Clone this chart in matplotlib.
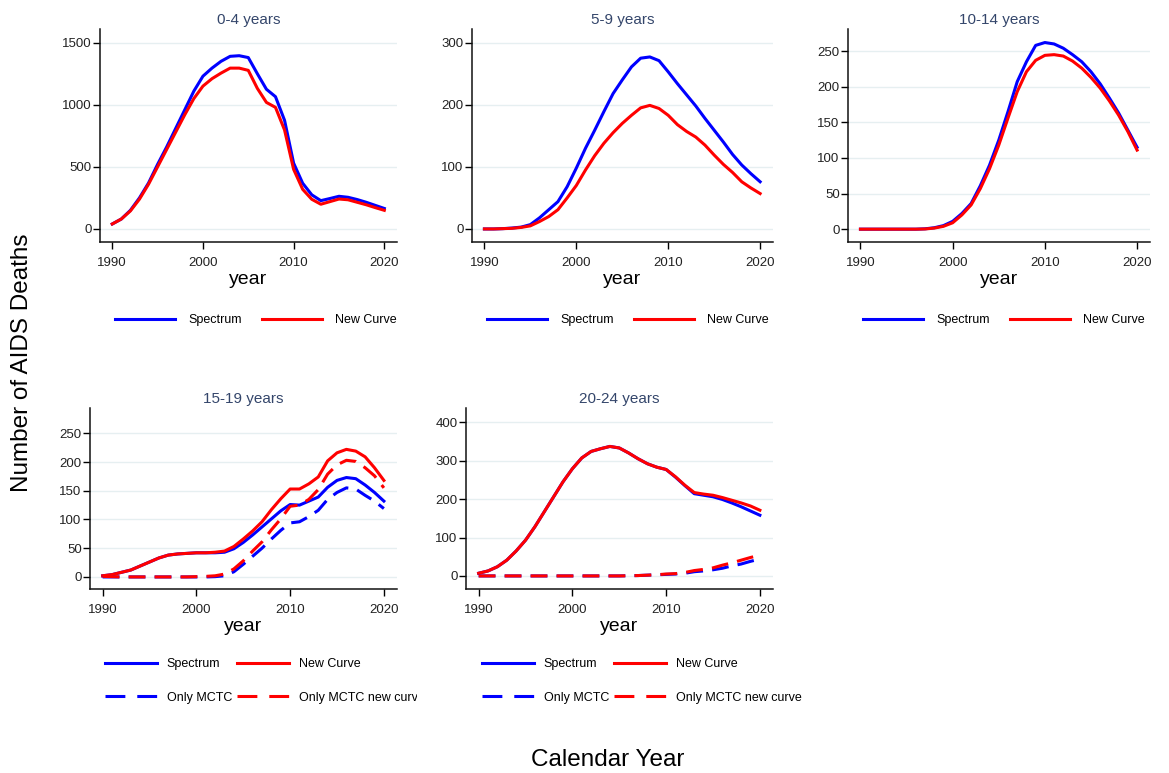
import matplotlib
matplotlib.use("Agg")
import matplotlib.pyplot as plt
from matplotlib.lines import Line2D
from matplotlib.transforms import Bbox, TransformedBbox

plt.rcParams['font.family'] = ['Liberation Sans', 'DejaVu Sans']

W, H = 1169, 773

# calendar years on the x axis
years = list(range(1990, 2021))

# AIDS deaths, 0-4 years
spec_0_4 = [40, 80, 150, 250, 370, 520, 660, 810, 960, 1110, 1230, 1295, 1350, 1390, 1395, 1380,
            1250, 1125, 1065, 875, 530, 368, 275, 228, 245, 263, 255, 237, 215, 190, 165]
new_0_4 = [40, 80, 145, 240, 360, 500, 640, 780, 920, 1050, 1150, 1210, 1255, 1295, 1295, 1277,
           1132, 1019, 979, 797, 480, 319, 239, 199, 220, 241, 235, 215, 195, 172, 150]

# 5-9 years
spec_5_9 = [0, 0, 0.5, 1.5, 3, 7, 18, 31, 44, 68, 98, 130, 159, 189, 218, 240,
            261, 275, 277, 271, 253, 234, 216, 198, 178, 159, 140, 120, 103, 89, 76]
new_5_9 = [0, 0, 0.5, 1, 2.5, 5, 12, 20, 31, 50, 70, 95, 118, 138, 155, 170,
           183, 195, 199, 194, 183, 168, 157, 148, 135, 119, 104, 91, 76, 66, 57]

# 10-14 years
spec_10_14 = [0, 0, 0, 0, 0, 0, 0, 0.5, 2, 5, 11, 22, 36, 61, 90, 125,
              165, 207, 235, 258, 262, 260, 254, 245, 235, 221, 204, 184, 163, 139, 115]
new_10_14 = [0, 0, 0, 0, 0, 0, 0, 0.3, 1.5, 4, 9, 20, 34, 57, 85, 118,
             156, 193, 221, 237, 244, 245, 243, 236, 226, 213, 198, 180, 160, 137, 111]

# 15-19 years
spec_15_19 = [2, 4, 8, 12, 19, 26, 33, 38, 40, 41, 42, 42, 42, 43, 49, 60,
              73, 87, 101, 115, 126, 125, 132, 139, 156, 168, 173, 171, 160, 147, 132]
new_15_19 = [2, 4, 8, 12, 19, 26, 33, 38, 40, 41, 42, 42, 43, 45, 53, 66,
             80, 96, 117, 136, 153, 153, 162, 174, 202, 216, 222, 219, 209, 190, 168]
mctc_15_19 = [0, 0, 0, 0, 0, 0, 0, 0, 0, 0, 0, 0, 0.5, 2, 9, 22,
              36, 50, 66, 81, 94, 96, 105, 116, 135, 147, 155, 153, 142, 132, 119]
mctc_new_15_19 = [1, 0.5, 0, 0, 0, 0, 0, 0, 0, 0, 0.5, 1, 2, 5, 14, 28,
                  45, 61, 82, 101, 123, 125, 135, 152, 179, 195, 203, 201, 190, 176, 155]

# 20-24 years
spec_20_24 = [7, 13, 24, 41, 65, 93, 128, 167, 206, 245, 279, 307, 324, 331, 337, 333,
              320, 305, 292, 283, 277, 257, 235, 214, 210, 206, 199, 190, 180, 169, 158]
new_20_24 = [7, 13, 24, 41, 65, 93, 128, 167, 206, 245, 279, 307, 324, 331, 337, 333,
             320, 305, 292, 283, 277, 258, 236, 217, 213, 210, 204, 197, 190, 182, 171]
mctc_20_24 = [0, 0, 0, 0, 0, 0, 0, 0, 0, 0, 0, 0, 0, 0, 0, 0,
              0.5, 1, 2, 3, 4, 5, 7, 11, 13, 16, 20, 26, 31, 38, 44]
mctc_new_20_24 = [0, 0, 0, 0, 0, 0, 0, 0, 0, 0, 0, 0, 0, 0, 0, 0,
                  0.5, 1, 2, 3, 5, 6, 9, 14, 17, 21, 28, 34, 41, 48, 54]

BLUE = '#0000ff'
RED = '#ff0000'
TITLE_COL = '#34466b'
DASH = (5.5, 3)
LW = 2.2

fig = plt.figure(figsize=(W / 100, H / 100), dpi=100)


def px_axes(left, top, right, bottom):
    return fig.add_axes([left / W, 1 - bottom / H, (right - left) / W, (bottom - top) / H])


def style(ax, title, ylim, yticks):
    ax.set_xlim(1988.65, 2021.4)
    ax.set_ylim(*ylim)
    ax.set_xticks([1990, 2000, 2010, 2020])
    ax.set_yticks(yticks)
    ax.set_title(title, fontsize=11, color=TITLE_COL, pad=3.5)
    ax.set_xlabel('year', fontsize=14, labelpad=1.5)
    for s in ['top', 'right']:
        ax.spines[s].set_visible(False)
    for s in ['left', 'bottom']:
        ax.spines[s].set_linewidth(1.1)
        ax.spines[s].set_color('#111111')
    ax.tick_params(axis='x', length=5, width=1.0, pad=5.5, labelsize=9.5, labelcolor='#222222')
    ax.tick_params(axis='y', length=5, width=1.0, pad=1, labelsize=9.5, labelcolor='#222222')
    ax.grid(axis='y', color='#e6eff1', linewidth=1.0)
    ax.set_axisbelow(True)


def add_legend(ax, handles, labels, x_left, y_mid, hlen, tpad, cspace, clip_x=None):
    leg = ax.legend(handles, labels, ncol=2, loc='center left', frameon=False,
                    bbox_to_anchor=(x_left / W, 1 - y_mid / H), bbox_transform=fig.transFigure,
                    fontsize=9, handlelength=hlen, handletextpad=tpad, columnspacing=cspace,
                    borderpad=0, borderaxespad=0, labelspacing=1.7)
    if clip_x is not None:
        box = TransformedBbox(Bbox([[0, 0], [clip_x / W, 1]]), fig.transFigure)
        for t in leg.get_texts():
            t.set_clip_box(box)
            t.set_clip_on(True)
    return leg


def solid(c):
    return Line2D([], [], color=c, lw=LW)


def dashed(c):
    return Line2D([], [], color=c, lw=LW, dashes=(6.5, 3.9))


# top row
ax1 = px_axes(100, 29, 397, 242)
ax1.plot(years, spec_0_4, color=BLUE, lw=LW)
ax1.plot(years, new_0_4, color=RED, lw=LW)
style(ax1, '0-4 years', (-105, 1610), [0, 500, 1000, 1500])
add_legend(ax1, [solid(BLUE), solid(RED)], ['Spectrum', 'New Curve'], 115, 320, 4.8, 1.05, 1.6)

ax2 = px_axes(472, 29, 773, 242)
ax2.plot(years, spec_5_9, color=BLUE, lw=LW)
ax2.plot(years, new_5_9, color=RED, lw=LW)
style(ax2, '5-9 years', (-21, 322), [0, 100, 200, 300])
add_legend(ax2, [solid(BLUE), solid(RED)], ['Spectrum', 'New Curve'], 487, 320, 4.8, 1.05, 1.6)

ax3 = px_axes(848, 29, 1150, 242)
ax3.plot(years, spec_10_14, color=BLUE, lw=LW)
ax3.plot(years, new_10_14, color=RED, lw=LW)
style(ax3, '10-14 years', (-18, 281), [0, 50, 100, 150, 200, 250])
add_legend(ax3, [solid(BLUE), solid(RED)], ['Spectrum', 'New Curve'], 863, 320, 4.8, 1.05, 1.6)

# bottom row
labels4 = ['Spectrum', 'Only MCTC', 'New Curve', 'Only MCTC new curve']
handles4 = [solid(BLUE), dashed(BLUE), solid(RED), dashed(RED)]

ax4 = px_axes(90, 408, 397, 589)
ax4.plot(years, spec_15_19, color=BLUE, lw=LW)
ax4.plot(years, new_15_19, color=RED, lw=LW)
ax4.plot(years, mctc_15_19, color=BLUE, lw=LW, dashes=DASH)
ax4.plot(years, mctc_new_15_19, color=RED, lw=LW, dashes=DASH)
style(ax4, '15-19 years', (-21, 294), [0, 50, 100, 150, 200, 250])
add_legend(ax4, handles4, labels4, 105, 681, 4.15, 0.8, 0.4, clip_x=417)

ax5 = px_axes(466, 408, 773, 589)
ax5.plot(years, spec_20_24, color=BLUE, lw=LW)
ax5.plot(years, new_20_24, color=RED, lw=LW)
ax5.plot(years, mctc_20_24, color=BLUE, lw=LW, dashes=DASH)
ax5.plot(years, mctc_new_20_24, color=RED, lw=LW, dashes=DASH)
style(ax5, '20-24 years', (-34, 437), [0, 100, 200, 300, 400])
add_legend(ax5, handles4, labels4, 482, 681, 4.15, 0.8, 0.4)

fig.text(22 / W, 1 - 363 / H, 'Number of AIDS Deaths', rotation=90, ha='center', va='center',
         fontsize=17.5)
fig.text(608 / W, 1 - 760 / H, 'Calendar Year', ha='center', va='center', fontsize=17.5)

fig.savefig('out.png', dpi=100, facecolor='white')
